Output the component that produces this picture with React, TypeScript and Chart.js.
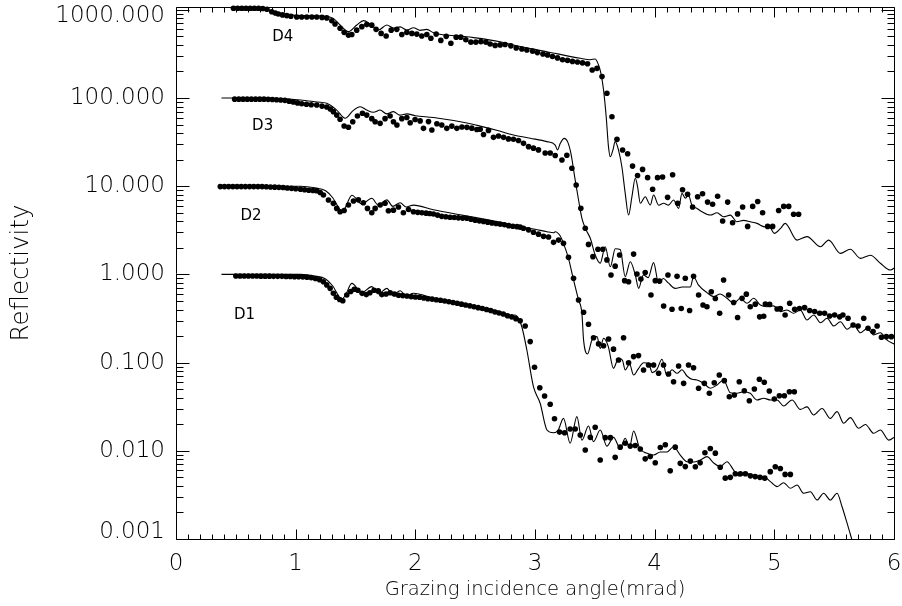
import React, { useEffect, useRef } from 'react';
import { Chart, registerables } from 'chart.js';
Chart.register(...registerables);

type P = [number, number];

const xTickValues = [0, 1, 2, 3, 4, 5, 6];
const xTickLabels = ['0', '1', '2', '3', '4', '5', '6'];
const yTickValues = [0.001, 0.01, 0.1, 1, 10, 100, 1000];
const yTickLabels = ['0.001', '0.010', '0.100', '1.000', '10.000', '100.000', '1000.000'];
const yMin = 0.001;
const yMax = 1076;

const seriesNames = ['D1', 'D2', 'D3', 'D4'];
const seriesLabelX = [0.572, 0.627, 0.724, 0.892];
const seriesLabelY = [0.349, 4.59, 48.2, 485];

const d1Model: P[] = [[0.38,1.0],[1.04,1.0],[1.16,0.96],[1.25,0.887],[1.31,0.738],[1.355,0.583],[1.38,0.526],[1.413,0.569],[1.469,0.792],[1.553,0.621],[1.636,0.726],[1.691,0.60],[1.762,0.695],[1.812,0.583],[1.873,0.653],[1.923,0.569],[1.984,0.611],[2.151,0.536],[2.431,0.45],[2.709,0.378],[2.807,0.34],[2.834,0.346],[2.862,0.318],[2.89,0.255],[2.932,0.139],[2.987,0.0533],[3.043,0.0346],[3.10,0.0172],[3.155,0.016],[3.194,0.0172],[3.238,0.0233],[3.294,0.0122],[3.35,0.0244],[3.392,0.0132],[3.447,0.0191],[3.489,0.0127],[3.545,0.0172],[3.601,0.0113],[3.656,0.0142],[3.712,0.0107],[3.754,0.0139],[3.79,0.011],[3.824,0.0168],[3.874,0.0107],[3.936,0.00937],[3.991,0.00895],[4.047,0.00969],[4.103,0.0097],[4.158,0.0111],[4.214,0.00895],[4.27,0.00752],[4.323,0.00746],[4.381,0.00787],[4.437,0.00858],[4.493,0.00728],[4.548,0.00661],[4.604,0.00752],[4.66,0.00605],[4.702,0.00518],[4.772,0.00556],[4.827,0.00508],[4.911,0.00508],[4.967,0.00447],[5.023,0.00392],[5.078,0.00435],[5.134,0.00376],[5.19,0.00409],[5.245,0.0033],[5.301,0.00344],[5.357,0.00277],[5.412,0.0033],[5.468,0.00277],[5.524,0.0033],[5.566,0.00232],[5.608,0.00151],[5.641,0.00106],[5.686,0.00066]];

const d1Dots: P[] = [[0.50,0.96],[0.535,0.96],[0.57,0.96],[0.605,0.96],[0.64,0.96],[0.675,0.96],[0.71,0.955],[0.745,0.955],[0.78,0.955],[0.815,0.95],[0.85,0.95],[0.885,0.95],[0.92,0.945],[0.955,0.945],[0.99,0.94],[1.025,0.94],[1.06,0.935],[1.095,0.93],[1.13,0.92],[1.165,0.90],[1.20,0.87],[1.232,0.826],[1.26,0.76],[1.288,0.695],[1.315,0.611],[1.34,0.55],[1.368,0.52],[1.394,0.503],[1.427,0.583],[1.46,0.64],[1.49,0.68],[1.52,0.66],[1.555,0.61],[1.59,0.59],[1.62,0.62],[1.655,0.66],[1.69,0.65],[1.72,0.59],[1.755,0.60],[1.79,0.62],[1.825,0.60],[1.86,0.58],[1.895,0.575],[1.93,0.57],[1.965,0.56],[2.0,0.555],[2.035,0.55],[2.07,0.54],[2.105,0.53],[2.14,0.525],[2.175,0.515],[2.21,0.51],[2.245,0.50],[2.28,0.49],[2.315,0.48],[2.35,0.47],[2.385,0.46],[2.42,0.45],[2.455,0.44],[2.49,0.43],[2.525,0.42],[2.56,0.41],[2.595,0.40],[2.63,0.39],[2.665,0.375],[2.70,0.365],[2.735,0.355],[2.77,0.34],[2.805,0.33],[2.84,0.315],[2.876,0.298],[2.918,0.26],[2.96,0.173],[2.996,0.0885],[3.04,0.0519],[3.08,0.0418],[3.127,0.0337],[3.163,0.0231],[3.205,0.0163],[3.247,0.016],[3.294,0.0177],[3.336,0.0177],[3.378,0.0151],[3.42,0.0102],[3.462,0.0142],[3.503,0.0185],[3.545,0.00787],[3.587,0.0141],[3.63,0.0141],[3.67,0.00843],[3.712,0.011],[3.754,0.0122],[3.796,0.0113],[3.838,0.0115],[3.88,0.0105],[3.921,0.0081],[3.963,0.0086],[4.005,0.00733],[4.047,0.0109],[4.089,0.0117],[4.13,0.00594],[4.172,0.011],[4.214,0.00721],[4.256,0.00662],[4.298,0.00764],[4.34,0.0066],[4.38,0.0073],[4.42,0.0095],[4.465,0.0106],[4.507,0.0094],[4.548,0.0065],[4.59,0.0049],[4.632,0.005],[4.674,0.0055],[4.716,0.0055],[4.758,0.0055],[4.8,0.0052],[4.84,0.0051],[4.88,0.005],[4.92,0.0049],[4.966,0.0058],[5.008,0.0066],[5.05,0.0063],[5.09,0.0054],[5.134,0.0054]];

const d2Model: P[] = [[0.37,10.0],[1.04,10.0],[1.16,9.6],[1.25,8.9],[1.31,7.4],[1.355,5.85],[1.38,5.3],[1.41,5.6],[1.47,7.9],[1.553,6.3],[1.636,7.3],[1.691,6.1],[1.762,7.0],[1.812,5.9],[1.873,6.5],[1.923,5.8],[1.984,6.1],[2.151,5.4],[2.431,4.6],[2.709,3.9],[2.876,3.48],[3.0,3.25],[3.10,3.05],[3.155,2.97],[3.169,3.04],[3.211,2.72],[3.238,2.25],[3.28,1.52],[3.322,0.865],[3.364,0.513],[3.392,0.362],[3.406,0.18],[3.439,0.125],[3.476,0.18],[3.518,0.197],[3.545,0.145],[3.573,0.189],[3.612,0.153],[3.656,0.0861],[3.698,0.112],[3.73,0.107],[3.754,0.0824],[3.79,0.0964],[3.824,0.0723],[3.863,0.085],[3.907,0.0998],[3.949,0.098],[3.98,0.077],[4.019,0.0839],[4.061,0.109],[4.103,0.0705],[4.145,0.083],[4.187,0.0756],[4.228,0.083],[4.27,0.0705],[4.312,0.0648],[4.354,0.0636],[4.409,0.0582],[4.465,0.0512],[4.521,0.0558],[4.576,0.0636],[4.632,0.0456],[4.688,0.0449],[4.743,0.0468],[4.799,0.0449],[4.855,0.0377],[4.911,0.0394],[4.967,0.0377],[5.023,0.0377],[5.078,0.0322],[5.148,0.0377],[5.217,0.0295],[5.273,0.0315],[5.329,0.0255],[5.399,0.0302],[5.468,0.0233],[5.524,0.0278],[5.58,0.0205],[5.635,0.0238],[5.705,0.018],[5.761,0.0199],[5.83,0.0158],[5.886,0.0172],[5.956,0.0132],[6.01,0.0145]];

const d2Dots: P[] = [[0.37,9.9],[0.405,9.9],[0.44,9.9],[0.475,9.9],[0.51,9.9],[0.545,9.9],[0.58,9.9],[0.615,9.9],[0.65,9.9],[0.685,9.9],[0.72,9.9],[0.755,9.85],[0.79,9.8],[0.825,9.75],[0.86,9.7],[0.895,9.65],[0.93,9.55],[0.965,9.45],[1.0,9.35],[1.04,9.23],[1.075,9.1],[1.11,9.0],[1.145,8.95],[1.176,8.9],[1.205,8.5],[1.232,7.94],[1.274,6.98],[1.315,6.39],[1.343,5.6],[1.371,5.14],[1.405,5.3],[1.441,6.12],[1.483,6.8],[1.524,7.0],[1.566,6.5],[1.60,5.6],[1.636,5.0],[1.664,5.6],[1.706,6.12],[1.747,6.4],[1.775,5.27],[1.817,5.35],[1.859,5.8],[1.90,5.0],[1.943,5.45],[1.984,5.14],[2.02,5.05],[2.055,5.0],[2.09,4.95],[2.12,4.9],[2.151,4.84],[2.185,4.7],[2.22,4.55],[2.255,4.5],[2.29,4.45],[2.325,4.42],[2.36,4.38],[2.395,4.35],[2.431,4.33],[2.465,4.22],[2.50,4.12],[2.535,4.05],[2.57,3.98],[2.605,3.9],[2.64,3.82],[2.675,3.77],[2.709,3.72],[2.745,3.65],[2.78,3.57],[2.815,3.52],[2.85,3.48],[2.876,3.44],[2.903,3.34],[2.946,3.2],[2.987,3.0],[3.029,2.86],[3.071,2.70],[3.113,2.65],[3.155,2.31],[3.197,2.45],[3.238,2.25],[3.28,1.56],[3.322,0.904],[3.364,0.513],[3.406,0.372],[3.447,0.272],[3.489,0.191],[3.531,0.163],[3.573,0.155],[3.615,0.185],[3.656,0.142],[3.698,0.107],[3.74,0.191],[3.782,0.0998],[3.824,0.117],[3.865,0.12],[3.907,0.0824],[3.949,0.094],[3.991,0.094],[4.033,0.0756],[4.074,0.094],[4.116,0.0742],[4.158,0.0607],[4.2,0.0914],[4.242,0.0582],[4.283,0.094],[4.325,0.0875],[4.367,0.0512],[4.415,0.0582],[4.457,0.0449],[4.498,0.0591],[4.54,0.0723],[4.582,0.0624],[4.624,0.041],[4.666,0.043],[4.707,0.0607],[4.749,0.048],[4.791,0.037],[4.833,0.0502],[4.875,0.0648],[4.916,0.0598],[4.958,0.0476],[5.0,0.0387],[5.042,0.0421],[5.084,0.0421],[5.126,0.0468],[5.167,0.0468]];

const d3Model: P[] = [[0.38,100],[0.8,99],[1.04,95],[1.18,90],[1.26,87],[1.343,73],[1.413,59],[1.48,72],[1.539,79.6],[1.594,73],[1.65,69],[1.706,73],[1.76,66],[1.817,70],[1.87,64],[1.93,66],[2.0,63],[2.151,60],[2.431,52],[2.542,48],[2.68,43],[2.82,38],[2.96,35],[3.10,32],[3.169,29.3],[3.188,25.7],[3.211,30.6],[3.244,34.9],[3.272,32],[3.30,23.6],[3.336,11.7],[3.364,6.98],[3.392,4.32],[3.428,3.18],[3.462,2.57],[3.503,1.66],[3.545,1.34],[3.587,2.06],[3.629,1.22],[3.671,1.95],[3.712,1.91],[3.754,0.942],[3.796,1.39],[3.838,0.985],[3.866,0.695],[3.905,0.985],[3.946,0.92],[3.991,1.36],[4.033,0.792],[4.072,0.9],[4.114,0.8],[4.172,0.695],[4.231,0.72],[4.298,0.72],[4.325,0.942],[4.365,0.76],[4.437,0.621],[4.493,0.56],[4.548,0.60],[4.604,0.536],[4.66,0.47],[4.716,0.536],[4.772,0.47],[4.827,0.536],[4.883,0.45],[4.939,0.43],[4.994,0.44],[5.05,0.378],[5.106,0.395],[5.161,0.362],[5.217,0.395],[5.273,0.304],[5.329,0.347],[5.385,0.283],[5.441,0.318],[5.496,0.26],[5.552,0.29],[5.608,0.239],[5.663,0.267],[5.719,0.218],[5.775,0.243],[5.83,0.206],[5.886,0.218],[5.942,0.18],[6.01,0.16]];

const d3Dots: P[] = [[0.49,97],[0.525,97],[0.56,97],[0.595,97],[0.63,97],[0.665,97],[0.70,97],[0.735,97],[0.77,96.5],[0.805,96],[0.84,95.5],[0.875,95],[0.91,94],[0.945,92],[0.98,90],[1.015,88],[1.05,86],[1.09,85],[1.13,84],[1.176,83.4],[1.22,81],[1.26,79],[1.29,75],[1.315,70],[1.343,64],[1.371,57.4],[1.405,48.2],[1.441,46.6],[1.477,53.8],[1.516,62.5],[1.558,67.1],[1.594,64],[1.636,58.3],[1.664,53.8],[1.706,51.6],[1.747,58.3],[1.789,62.5],[1.817,53.8],[1.846,49.4],[1.887,58.3],[1.929,60],[1.957,52.5],[1.998,57],[2.04,55],[2.068,45.3],[2.11,54],[2.138,43.4],[2.18,51],[2.221,49.5],[2.263,45.3],[2.305,48],[2.347,45.3],[2.389,47],[2.431,46.5],[2.472,45.5],[2.514,44],[2.542,44.2],[2.57,38.6],[2.611,42.9],[2.653,35.8],[2.695,37.1],[2.737,35.8],[2.778,34.4],[2.82,34.1],[2.862,33],[2.904,30.6],[2.946,28.1],[2.987,27],[3.029,25.8],[3.085,23.8],[3.127,23.8],[3.169,22.3],[3.225,19.8],[3.266,22.4],[3.308,16],[3.344,10.3],[3.383,5.61],[3.42,3.34],[3.447,2.19],[3.484,1.59],[3.526,1.93],[3.567,1.93],[3.601,1.46],[3.635,0.985],[3.67,1.24],[3.707,1.66],[3.749,0.849],[3.782,0.826],[3.824,1.70],[3.852,1.01],[3.885,0.885],[3.921,1.05],[3.969,0.583],[4.005,0.849],[4.041,0.84],[4.075,0.438],[4.111,0.985],[4.145,0.402],[4.187,0.95],[4.222,0.41],[4.256,0.904],[4.292,0.39],[4.325,0.95],[4.367,0.583],[4.404,0.45],[4.437,0.43],[4.473,0.637],[4.507,0.534],[4.543,0.362],[4.576,0.865],[4.618,0.583],[4.66,0.48],[4.693,0.324],[4.73,0.535],[4.766,0.597],[4.799,0.43],[4.841,0.46],[4.877,0.33],[4.911,0.335],[4.925,0.461],[4.961,0.457],[5.023,0.406],[5.05,0.41],[5.09,0.347],[5.128,0.47],[5.17,0.402],[5.21,0.41],[5.253,0.42],[5.295,0.39],[5.337,0.38],[5.379,0.362],[5.42,0.362],[5.462,0.338],[5.504,0.347],[5.546,0.33],[5.573,0.347],[5.616,0.318],[5.658,0.267],[5.70,0.26],[5.747,0.318],[5.783,0.245],[5.825,0.225],[5.859,0.26],[5.895,0.194],[5.936,0.197],[5.978,0.197]];

const d4Model: P[] = [[0.48,1000],[0.78,985],[0.87,905],[1.0,865],[1.26,840],[1.315,800],[1.371,673],[1.44,565],[1.511,673],[1.567,753],[1.622,690],[1.692,590],[1.762,673],[1.818,620],[1.873,640],[1.929,590],[1.984,625],[2.04,585],[2.096,600],[2.151,550],[2.431,495],[2.709,435],[2.82,399],[3.10,335],[3.378,282],[3.462,272],[3.503,277],[3.531,237],[3.551,190],[3.573,123],[3.595,61.4],[3.614,28.1],[3.629,21.6],[3.651,25.7],[3.67,32],[3.698,25.7],[3.726,16.6],[3.754,8.3],[3.782,4.71],[3.81,7.6],[3.838,12.3],[3.857,9.9],[3.88,6.4],[3.921,7.6],[3.963,6.12],[3.991,7.94],[4.033,6.1],[4.075,6.4],[4.116,6.1],[4.158,6.98],[4.2,5.61],[4.228,8.3],[4.256,7.3],[4.283,7.94],[4.31,6.12],[4.354,5.6],[4.395,5.14],[4.465,4.71],[4.521,5.0],[4.576,4.5],[4.632,4.7],[4.688,3.95],[4.743,4.1],[4.799,3.95],[4.855,3.79],[4.911,3.48],[4.967,3.35],[5.0,2.92],[5.05,3.3],[5.09,3.79],[5.19,2.45],[5.273,2.68],[5.385,2.06],[5.454,2.45],[5.552,1.73],[5.635,1.93],[5.719,1.52],[5.803,1.65],[5.886,1.34],[5.97,1.12],[6.01,1.2]];

const d4Dots: P[] = [[0.48,1040],[0.515,1040],[0.55,1040],[0.585,1040],[0.62,1040],[0.655,1040],[0.69,1040],[0.725,1035],[0.76,1015],[0.80,951],[0.83,920],[0.855,896],[0.89,875],[0.926,858],[0.96,845],[1.009,830],[1.05,830],[1.093,830],[1.135,830],[1.176,830],[1.22,820],[1.26,810],[1.302,752],[1.329,690],[1.371,617],[1.405,555],[1.441,517],[1.469,525],[1.51,588],[1.553,644],[1.594,680],[1.636,670],[1.672,600],[1.714,540],[1.756,505],[1.798,588],[1.845,600],[1.887,525],[1.929,555],[1.971,540],[2.012,530],[2.054,505],[2.096,525],[2.13,475],[2.174,530],[2.213,450],[2.258,500],[2.297,417],[2.341,490],[2.38,490],[2.422,457],[2.464,430],[2.506,430],[2.548,436],[2.59,430],[2.625,409],[2.667,395],[2.709,400],[2.75,405],[2.798,390],[2.843,370],[2.89,360],[2.932,350],[2.98,340],[3.02,327],[3.066,315],[3.105,308],[3.146,295],[3.188,285],[3.23,272],[3.272,267],[3.313,260],[3.355,256],[3.397,250],[3.439,245],[3.478,208],[3.518,217],[3.56,175],[3.601,113],[3.643,61.4],[3.685,34],[3.732,25.7],[3.774,23.3],[3.815,16.9],[3.857,13.2],[3.899,15.5],[3.941,12.5],[3.983,9.23],[4.024,12.5],[4.066,12.7],[4.108,7.48],[4.15,13.5],[4.192,6.4],[4.233,9.1],[4.275,8.1],[4.317,5.8],[4.359,7.6],[4.4,8.2],[4.442,6.6],[4.484,6.25],[4.526,7.7],[4.568,4.03],[4.61,6.6],[4.651,3.85],[4.693,4.85],[4.735,5.8],[4.777,3.5],[4.819,5.9],[4.861,6.7],[4.902,5.0],[4.944,3.5],[4.986,3.5],[5.036,5.3],[5.078,5.9],[5.12,5.9],[5.161,4.8],[5.203,4.8]];

const models = [d1Model, d2Model, d3Model, d4Model];
const measured = [d1Dots, d2Dots, d3Dots, d4Dots];

const FONT = "'DejaVu Sans', 'Liberation Sans', Arial, sans-serif";
const INK = '#000';

const toXY = (arr: P[]) => arr.map(([x, y]) => ({ x, y }));

const frameTicks = {
  id: 'frameTicks',
  beforeDraw(chart: any) {
    try {
      const ys = chart.scales.y;
      const items = ys.getLabelItems();
      if (items && items.length) {
        items[0].options.translation[1] -= 7;
        items[items.length - 1].options.translation[1] += 6;
      }
    } catch (e) { /* ignore */ }
  },
  afterDraw(chart: any) {
    const { ctx, chartArea } = chart;
    const xs = chart.scales.x;
    const ys = chart.scales.y;
    const L = Math.round(chartArea.left) + 0.5;
    const R = Math.round(chartArea.right) + 0.5;
    const T = Math.round(chartArea.top) + 0.5;
    const B = Math.round(chartArea.bottom) + 0.5;
    ctx.save();
    ctx.strokeStyle = '#000';
    ctx.lineWidth = 1;
    ctx.beginPath();
    ctx.rect(L, T, R - L, B - T);
    for (let i = 0; i < xTickValues.length; i++) {
      const v = xTickValues[i];
      const px = Math.round(xs.getPixelForValue(v)) + 0.5;
      ctx.moveTo(px, B); ctx.lineTo(px, B - 10);
      ctx.moveTo(px, T); ctx.lineTo(px, T + 10);
      if (i < xTickValues.length - 1) {
        const step = (xTickValues[i + 1] - v) / 10;
        for (let k = 1; k < 10; k++) {
          const mx = Math.round(xs.getPixelForValue(v + k * step)) + 0.5;
          ctx.moveTo(mx, B); ctx.lineTo(mx, B - 5);
          ctx.moveTo(mx, T); ctx.lineTo(mx, T + 5);
        }
      }
    }
    for (let i = 0; i < yTickValues.length; i++) {
      const d = yTickValues[i];
      const py = Math.round(ys.getPixelForValue(d)) + 0.5;
      ctx.moveTo(L, py); ctx.lineTo(L + 13, py);
      ctx.moveTo(R, py); ctx.lineTo(R - 13, py);
      for (let m = 2; m <= 9; m++) {
        const v = d * m;
        if (v > yMax) break;
        const my = Math.round(ys.getPixelForValue(v)) + 0.5;
        ctx.moveTo(L, my); ctx.lineTo(L + 7, my);
        ctx.moveTo(R, my); ctx.lineTo(R - 7, my);
      }
    }
    ctx.stroke();
    ctx.fillStyle = INK;
    ctx.font = `15px ${FONT}`;
    ctx.textAlign = 'center';
    ctx.textBaseline = 'middle';
    for (let i = 0; i < seriesNames.length; i++) {
      ctx.fillText(seriesNames[i], xs.getPixelForValue(seriesLabelX[i]), ys.getPixelForValue(seriesLabelY[i]));
    }
    ctx.restore();
  },
};

export default function App() {
  const ref = useRef<HTMLCanvasElement | null>(null);
  useEffect(() => {
    document.body.style.margin = '0';
    const canvas = ref.current;
    if (!canvas) return;
    const datasets: any[] = [];
    models.forEach((m) => {
      datasets.push({
        data: toXY(m),
        borderColor: '#000',
        borderWidth: 1.1,
        pointRadius: 0,
        fill: false,
        cubicInterpolationMode: 'monotone',
        showLine: true,
      });
    });
    measured.forEach((d) => {
      datasets.push({
        data: toXY(d),
        showLine: false,
        pointRadius: 2.8,
        pointBackgroundColor: '#000',
        pointBorderWidth: 0,
        borderColor: '#000',
        clip: 4,
      });
    });
    const chart = new Chart(canvas, {
      type: 'line',
      data: { datasets },
      plugins: [frameTicks],
      options: {
        responsive: false,
        maintainAspectRatio: false,
        animation: false,
        events: [],
        layout: { padding: { top: 7, right: 8, left: 0, bottom: 0 } },
        plugins: { legend: { display: false }, tooltip: { enabled: false } },
        scales: {
          x: {
            type: 'linear',
            position: 'bottom',
            min: 0,
            max: 6,
            grid: { display: false, drawTicks: false },
            border: { display: false },
            afterBuildTicks: (s: any) => { s.ticks = xTickValues.map((v) => ({ value: v })); },
            afterFit: (s: any) => { s.height = 67; s.paddingLeft = 0; s.paddingRight = 0; },
            ticks: {
              autoSkip: false,
              maxRotation: 0,
              padding: 11,
              color: INK,
              font: { family: FONT, size: 23, weight: '200' as any },
              callback: (_v: any, i: number) => xTickLabels[i],
            },
            title: {
              display: true,
              text: 'Grazing incidence angle(mrad)',
              color: INK,
              font: { family: FONT, size: 19.5, weight: '200' as any },
              padding: { top: 0, bottom: 4 },
            },
          },
          y: {
            type: 'logarithmic',
            position: 'left',
            min: yMin,
            max: yMax,
            grid: { display: false, drawTicks: false },
            border: { display: false },
            afterBuildTicks: (s: any) => { s.ticks = yTickValues.map((v) => ({ value: v })); },
            afterFit: (s: any) => { s.width = 176; s.paddingTop = 0; s.paddingBottom = 0; },
            ticks: {
              autoSkip: false,
              padding: 11,
              color: INK,
              font: { family: FONT, size: 23, weight: '200' as any },
              callback: (_v: any, i: number) => yTickLabels[i],
            },
            title: {
              display: true,
              text: 'Reflectivity',
              color: INK,
              font: { family: FONT, size: 24.5, weight: '200' as any },
              padding: { top: 7, bottom: 0 },
            },
          },
        },
      },
    } as any);
    return () => chart.destroy();
  }, []);
  return (
    <div style={{ position: 'relative', width: 902, height: 606, background: '#fff' }}>
      <canvas ref={ref} width={902} height={606} style={{ display: 'block' }} />
    </div>
  );
}
